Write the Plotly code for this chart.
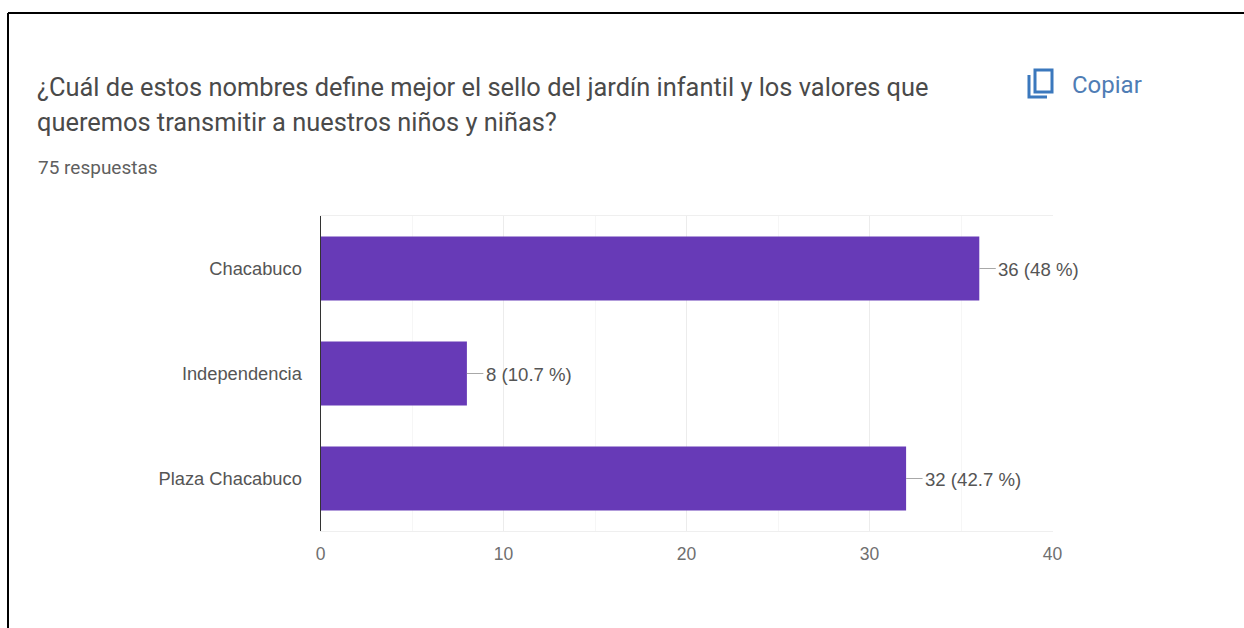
import plotly.graph_objects as go

categories = ["Chacabuco", "Independencia", "Plaza Chacabuco"]
counts = [36, 8, 32]
percents = ["48 %", "10.7 %", "42.7 %"]
x_ticks = [0, 10, 20, 30, 40]
title_lines = [
    "¿Cuál de estos nombres define mejor el sello del jardín infantil y los valores que",
    "queremos transmitir a nuestros niños y niñas?",
]
subtitle = "75 respuestas"
copy_label = "Copiar"

W, H = 1244, 628
PURPLE = "#673ab7"
BLUE = "#3b78bd"


def px(x):
    return x / W


def py(y):
    return 1 - y / H


fig = go.Figure()
fig.add_trace(go.Bar(
    y=categories, x=counts, orientation="h", width=0.61,
    marker=dict(color=PURPLE, line=dict(width=0)),
    error_x=dict(type="constant", value=0.9, valueminus=0, symmetric=False, width=0,
                 color="#a8a8a8", thickness=1),
    hoverinfo="skip",
))

annotations = []
for c, v, p in zip(categories, counts, percents):
    annotations.append(dict(
        x=v, y=c, xref="x", yref="y", xshift=19, yshift=-1, xanchor="left", yanchor="middle",
        text=f"{v} ({p})", showarrow=False, borderpad=0, borderwidth=0,
        font=dict(family="Liberation Sans", size=18.6, color="#555555"),
    ))


def page_text(x, y, text, size, color, family="Roboto", anchor="left"):
    annotations.append(dict(
        x=px(x), y=py(y), xref="paper", yref="paper", text=text, showarrow=False,
        xanchor=anchor, yanchor="middle", align="left", borderpad=0, borderwidth=0,
        font=dict(family=family, size=size, color=color),
    ))


page_text(37, 87, title_lines[0], 25.4, "#4a4a4a")
page_text(37, 122, title_lines[1], 25.4, "#4a4a4a")
page_text(38, 167, subtitle, 19, "#5f5f5f")
page_text(1072, 85, copy_label, 24, "#4f7db5")

shapes = [
    # page frame
    dict(type="line", xref="paper", yref="paper", x0=px(8), x1=px(8), y0=py(13), y1=py(628),
         line=dict(color="#000000", width=2)),
    dict(type="line", xref="paper", yref="paper", x0=px(8), x1=px(1244), y0=py(13), y1=py(13),
         line=dict(color="#000000", width=2)),
    # copy icon
    dict(type="rect", xref="paper", yref="paper", x0=px(1035), x1=px(1052), y0=py(70), y1=py(92),
         line=dict(color=BLUE, width=3)),
    dict(type="path", xref="paper", yref="paper",
         path=f"M {px(1029)} {py(75)} L {px(1029)} {py(97)} L {px(1047)} {py(97)}",
         line=dict(color=BLUE, width=3)),
]

fig.update_layout(
    width=W, height=H, autosize=False,
    margin=dict(l=0, r=0, t=0, b=0, pad=0, autoexpand=False),
    paper_bgcolor="#ffffff", plot_bgcolor="#ffffff",
    showlegend=False, annotations=annotations, shapes=shapes,
    xaxis=dict(
        domain=[px(320.5), px(1052.5)], range=[0, 40], tickvals=x_ticks,
        showgrid=True, gridcolor="#ececec", gridwidth=1,
        minor=dict(tickvals=[5, 15, 25, 35], showgrid=True, gridcolor="#f6f6f6", gridwidth=1),
        zeroline=False, showline=True, mirror=True, linecolor="#efefef", linewidth=1, ticks="",
        tickfont=dict(family="Liberation Sans", size=17.5, color="#6f6f6f"),
        ticklabelstandoff=7,
    ),
    yaxis=dict(
        domain=[py(531), py(216)], autorange="reversed",
        showgrid=False, zeroline=False, showline=True, linecolor="#333333", linewidth=1,
        ticks="", tickfont=dict(family="Liberation Sans", size=18.3, color="#555555"),
        ticklabelstandoff=14,
    ),
)

fig.write_html("out.html", config={"displayModeBar": False},
               post_script="document.body.style.margin='0';")
